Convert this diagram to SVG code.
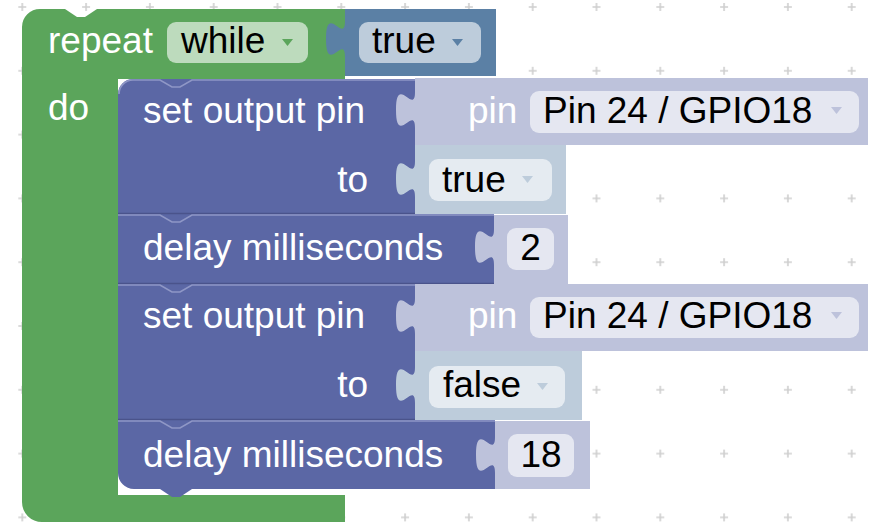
<svg xmlns="http://www.w3.org/2000/svg" width="870" height="524" viewBox="0 0 870 524">
  <defs>
    <pattern id="grid" patternUnits="userSpaceOnUse" x="-9.6" y="-24.9" width="63.8" height="63.8">
      <path d="M27.9,31.9h8M31.9,27.9v8" stroke="#cfcfcf" stroke-width="1.6" fill="none"/>
    </pattern>
    <path id="tab" d="M0,0 c0,24 -19,-19 -19,18 s19,-6 19,18 Z"/>
    <path id="arrow" d="M0,0 h11 l-5.5,7 Z"/>
  </defs>
  <style>
    text { font-family: "Liberation Sans", Arial, sans-serif; font-size: 37px; }
    .lbl { fill: #ffffff; }
    .val { fill: #000000; }
    .loop { fill: #5ba55b; }
    .logic { fill: #5b80a5; }
    .gpio { fill: #5b67a5; }
    .sh-gpio { fill: #bdc2db; }
    .sh-logic { fill: #bdccdb; }
    .fld-loop { fill: #bddbbd; }
    .fld-logic { fill: #bdccdb; }
    .fld-gpio { fill: #e5e7f1; }
    .fld-shlogic { fill: #e5ebf1; }
    .hl { fill: none; stroke: #8f97c6; stroke-width: 1.6; }
    .dk { fill: none; stroke: #4a538b; stroke-width: 1.4; }
  </style>

  <rect width="870" height="524" fill="#ffffff"/>
  <rect width="870" height="524" fill="url(#grid)"/>

  <!-- repeat while / do -->
  <g id="repeat-while">
    <path class="loop" d="M22,27 A18,18 0 0 1 40,9 H65 l12,8 h8 l12,-8 H345 V79 H118 V495 H345 V522 H42 A20,20 0 0 1 22,502 Z"/>
    <rect class="fld-loop" x="167" y="22" width="141" height="41" rx="9"/>
    <text class="lbl" x="48" y="53">repeat</text>
    <text class="val" x="181" y="53">while</text>
    <use href="#arrow" x="282" y="39" fill="#5ba55b"/>
    <text class="lbl" x="48" y="120">do</text>
  </g>

  <!-- logic boolean: true -->
  <g id="logic-true">
    <rect class="logic" x="345" y="9" width="151" height="67"/>
    <use href="#tab" x="345" y="21" class="logic"/>
    <rect class="fld-logic" x="359" y="22" width="122" height="41" rx="9"/>
    <text class="val" x="372" y="53">true</text>
    <use href="#arrow" x="452" y="39" fill="#5b80a5"/>
  </g>

  <!-- set output pin #1 -->
  <g id="set-pin-1">
    <path class="gpio" d="M118,94 A15,15 0 0 1 133,79 H415 V214 H118 Z"/>
    <path class="hl" d="M119,94 A14,14 0 0 1 133,80 H160 l12,7 h8 l12,-7 H415"/>
    <text class="lbl" x="143" y="123">set output pin</text>
    <text class="lbl" x="368" y="192" text-anchor="end">to</text>
    <g id="pin-1">
      <rect class="sh-gpio" x="415" y="78" width="453" height="67"/>
      <use href="#tab" x="415" y="92" class="sh-gpio"/>
      <text class="lbl" x="468" y="123">pin</text>
      <rect class="fld-gpio" x="530" y="91" width="329" height="42" rx="9"/>
      <text class="val" x="543" y="123">Pin 24 / GPIO18</text>
      <use href="#arrow" x="831" y="107" fill="#bdc2db"/>
    </g>
    <g id="bool-true">
      <rect class="sh-logic" x="415" y="145" width="151" height="69"/>
      <use href="#tab" x="415" y="161" class="sh-logic"/>
      <rect class="fld-shlogic" x="429" y="159" width="123" height="42" rx="9"/>
      <text class="val" x="442" y="192">true</text>
      <use href="#arrow" x="522" y="176" fill="#bdccdb"/>
    </g>
  </g>

  <!-- delay 2 ms -->
  <g id="delay-1">
    <rect class="gpio" x="118" y="214" width="376" height="70"/>
    <path class="dk" d="M118,213.5 H415"/>
    <path class="hl" d="M118,215 H160 l12,7 h8 l12,-7 H494"/>
    <text class="lbl" x="143" y="260">delay milliseconds</text>
    <g id="num-2">
      <rect class="sh-gpio" x="494" y="215" width="74" height="69"/>
      <use href="#tab" x="494" y="229" class="sh-gpio"/>
      <rect class="fld-gpio" x="507" y="228" width="47" height="42" rx="9"/>
      <text class="val" x="530.5" y="260" text-anchor="middle">2</text>
    </g>
  </g>

  <!-- set output pin #2 -->
  <g id="set-pin-2">
    <rect class="gpio" x="118" y="284" width="297" height="136"/>
    <path class="dk" d="M118,283.5 H494"/>
    <path class="hl" d="M118,285 H160 l12,7 h8 l12,-7 H415"/>
    <text class="lbl" x="143" y="328">set output pin</text>
    <text class="lbl" x="368" y="397" text-anchor="end">to</text>
    <g id="pin-2">
      <rect class="sh-gpio" x="415" y="284" width="453" height="67"/>
      <use href="#tab" x="415" y="298" class="sh-gpio"/>
      <text class="lbl" x="468" y="328">pin</text>
      <rect class="fld-gpio" x="530" y="297" width="329" height="41" rx="9"/>
      <text class="val" x="543" y="328">Pin 24 / GPIO18</text>
      <use href="#arrow" x="831" y="312" fill="#bdc2db"/>
    </g>
    <g id="bool-false">
      <rect class="sh-logic" x="415" y="351" width="167" height="69"/>
      <use href="#tab" x="415" y="367" class="sh-logic"/>
      <rect class="fld-shlogic" x="429" y="366" width="136" height="42" rx="9"/>
      <text class="val" x="443" y="397">false</text>
      <use href="#arrow" x="537" y="383" fill="#bdccdb"/>
    </g>
  </g>

  <!-- delay 18 ms -->
  <g id="delay-2">
    <path class="gpio" d="M118,420 H495 V489 H192 l-12,8 h-8 l-12,-8 H134 A16,16 0 0 1 118,473 Z"/>
    <path class="dk" d="M118,419.5 H415"/>
    <path class="hl" d="M118,421 H160 l12,7 h8 l12,-7 H495"/>
    <text class="lbl" x="143" y="467">delay milliseconds</text>
    <g id="num-18">
      <rect class="sh-gpio" x="495" y="421" width="95" height="68"/>
      <use href="#tab" x="495" y="437" class="sh-gpio"/>
      <rect class="fld-gpio" x="508" y="434" width="66" height="43" rx="9"/>
      <text class="val" x="541" y="467" text-anchor="middle">18</text>
    </g>
  </g>
</svg>
